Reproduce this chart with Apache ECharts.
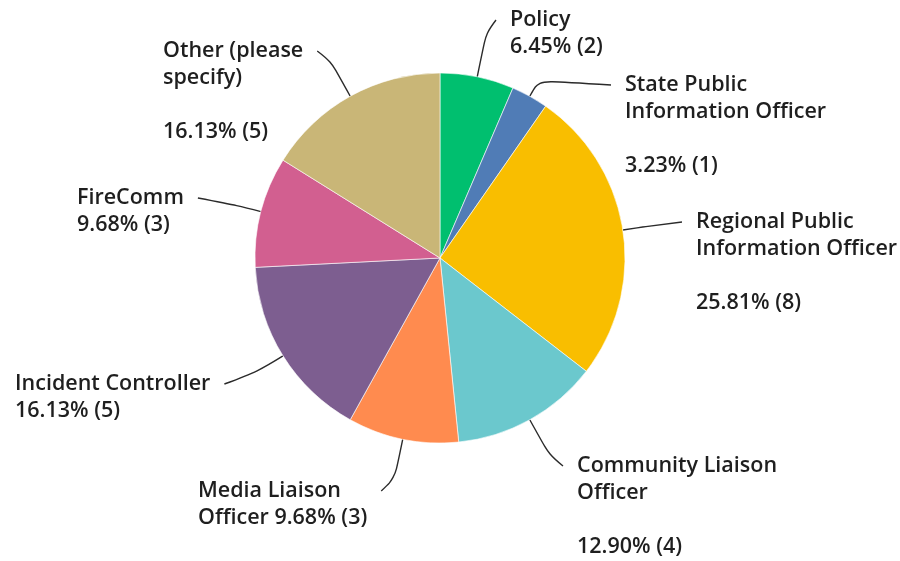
<!DOCTYPE html>
<html>
<head>
<meta charset="utf-8">
<script src="https://cdn.jsdelivr.net/npm/echarts@6/dist/echarts.min.js"></script>
<style>
  html, body { margin: 0; padding: 0; background: #fff; }
  #chart { width: 900px; height: 561px; }
</style>
</head>
<body>
<div id="chart"></div>
<script>
// Roles of respondents (counts)
var categories = [
  'Policy',
  'State Public Information Officer',
  'Regional Public Information Officer',
  'Community Liaison Officer',
  'Media Liaison Officer',
  'Incident Controller',
  'FireComm',
  'Other (please specify)'
];
var counts = [2, 1, 8, 4, 3, 5, 3, 5];

// How each name is broken into lines, and what separates it from the value
var labelNames = [
  'Policy',
  'State Public\nInformation Officer',
  'Regional Public\nInformation Officer',
  'Community Liaison\nOfficer',
  'Media Liaison\nOfficer',
  'Incident Controller',
  'FireComm',
  'Other (please\nspecify)'
];
var labelSeparators = ['\n', '\n\n', '\n\n', '\n\n', ' ', '\n', '\n', '\n\n'];

var colors = ['#00bf6f', '#507cb6', '#f9be00', '#6bc8cd', '#ff8b4f', '#7d5e90', '#d25f90', '#c9b677'];

// Label placement: left edge (x), centre of first text line (y), side of the pie,
// and how far the leader line runs outward before turning toward the label
var LINE_H = 27;
var labelSpots = [
  { x: 510, y: 20,  side: 'right', reach: 45 },
  { x: 625, y: 85,  side: 'right', reach: 18 },
  { x: 696, y: 222, side: 'right', reach: 20 },
  { x: 577, y: 466, side: 'right', reach: 40 },
  { x: 198, y: 491, side: 'left',  reach: 40 },
  { x: 15,  y: 384, side: 'left',  reach: 30 },
  { x: 77,  y: 198, side: 'left',  reach: 25 },
  { x: 163, y: 51,  side: 'left',  reach: 40 }
];
var GAP = 14;

var total = counts.reduce(function (a, b) { return a + b; }, 0);

var chart = echarts.init(document.getElementById('chart'), null, { renderer: 'canvas' });

chart.setOption({
  animation: false,
  backgroundColor: '#ffffff',
  series: [{
    type: 'pie',
    center: [440, 258],
    radius: [0, 185],
    startAngle: 90,
    clockwise: true,
    avoidLabelOverlap: false,
    itemStyle: { borderColor: '#ffffff', borderWidth: 0.6 },
    label: {
      show: true,
      position: 'outside',
      color: '#1f1f1f',
      fontFamily: 'Open Sans',
      fontWeight: 600,
      fontSize: 21.5,
      lineHeight: LINE_H,
      formatter: function (p) {
        var i = p.dataIndex;
        var pct = (counts[i] / total * 100).toFixed(2) + '% (' + counts[i] + ')';
        return labelNames[i] + labelSeparators[i] + pct;
      }
    },
    labelLine: {
      show: true,
      length: 10,
      length2: 10,
      smooth: 0.35,
      lineStyle: { color: '#2b2b2b', width: 1.4 }
    },
    labelLayout: function (params) {
      var i = params.dataIndex;
      var spot = labelSpots[i];
      var pts = params.labelLinePoints;
      var res = {
        x: spot.x,
        y: spot.y - LINE_H / 2,
        align: 'left',
        verticalAlign: 'top'
      };
      if (pts && pts.length >= 2) {
        var p0 = pts[0];
        var dx = pts[1][0] - p0[0], dy = pts[1][1] - p0[1];
        var len = Math.sqrt(dx * dx + dy * dy) || 1;
        var p1 = [p0[0] + dx / len * spot.reach, p0[1] + dy / len * spot.reach];
        var endX = spot.side === 'right'
          ? spot.x - GAP
          : spot.x + params.labelRect.width + GAP;
        var p2 = [endX, spot.y];
        res.labelLinePoints = [p0, p1, p2];
      }
      return res;
    },
    data: categories.map(function (name, i) {
      return { name: name, value: counts[i], itemStyle: { color: colors[i] } };
    })
  }]
});
</script>
</body>
</html>
